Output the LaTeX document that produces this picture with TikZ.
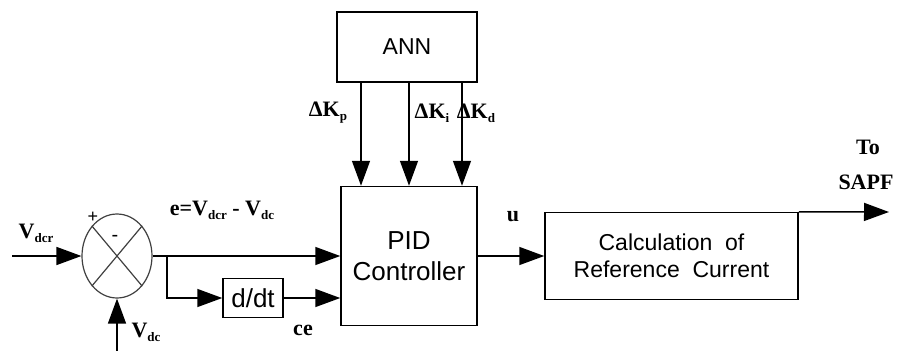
\documentclass[tikz,border=0pt]{standalone}
\usepackage{fontspec}
\setmainfont{Liberation Serif}
\setsansfont{Liberation Sans}
\usetikzlibrary{arrows.meta,shapes.geometric,calc}
\newcommand\lsub[1]{\raisebox{-4pt}{\fontsize{13}{13}\selectfont\bfseries #1}}
\begin{document}
\begin{tikzpicture}[x=1pt,y=-1pt,
  line width=1.5pt,
  blk/.style={draw,rectangle,inner sep=0pt,align=center,font=\sffamily\fontsize{23}{27}\selectfont},
  arr/.style={-{Triangle[length=25pt,width=18pt]}},
  lbl/.style={font=\bfseries\fontsize{22}{24}\selectfont,inner sep=0pt}]
\useasboundingbox (0,0) rectangle (898,351);
\node[blk,minimum width=140pt,minimum height=70pt] (ann) at (407,47) {ANN};
\node[blk,minimum width=136pt,minimum height=139pt,font=\sffamily\fontsize{26}{31}\selectfont] (pid) at (409,256) {PID\\Controller};
\node[blk,minimum width=253pt,minimum height=87pt] (calc) at (671.5,256) {Calculation \ of\\Reference \ Current};
\node[draw,ellipse,minimum width=70pt,minimum height=84pt,inner sep=0pt,line width=1.2pt,draw=black!75] (sum) at (117,256) {};
\draw[line width=1.2pt,draw=black!75] (sum.north west) -- (sum.south east) (sum.north east) -- (sum.south west);
\node[blk,minimum width=60pt,minimum height=39pt,font=\sffamily\fontsize{26}{30}\selectfont] (ddt) at (253,298) {d/dt};
\coordinate (vin) at (12,256);
\coordinate (vdcin) at (117,351);
\coordinate (br) at (167,256);
\coordinate (out) at (889,212);
\draw[arr] (vin) -- (sum.west);
\draw[arr] (vdcin) -- (sum.south);
\draw[arr] (sum.east) -- (pid.west);
\draw[arr] (br) |- (ddt.west);
\draw[arr] (ddt.east) -- (ddt.east -| pid.west);
\draw[arr] (pid.east) -- (calc.west);
\draw[arr] (calc.north east) -- (out);
\draw[arr] ([xshift=-46pt]ann.south) -- ([xshift=-46pt]ann.south |- pid.north);
\draw[arr] ([xshift=2pt]ann.south) -- ([xshift=2pt]ann.south |- pid.north);
\draw[arr] ([xshift=55pt]ann.south) -- ([xshift=55pt]ann.south |- pid.north);
\node[lbl] (lvdcr) at (36,233) {V\lsub{dcr}};
\node[font=\sffamily\fontsize{18}{18}\selectfont,inner sep=0pt] (lplus) at (93,217) {+};
\node[font=\sffamily\fontsize{20}{20}\selectfont,inner sep=0pt] (lminus) at (115,238) {-};
\node[lbl] (lvdc) at (146,332) {V\lsub{dc}};
\node[lbl] (le) at (222,210) {e=V\lsub{dcr} - V\lsub{dc}};
\node[lbl] (lce) at (303,330) {ce};
\node[lbl] (lkp) at (328,113) {ΔK\lsub{p}};
\node[lbl] (lki) at (432,113) {ΔK\lsub{i}};
\node[lbl] (lkd) at (476,113) {ΔK\lsub{d}};
\node[lbl] (lu) at (513,217) {u};
\node[lbl] (lto) at (868,147) {To};
\node[lbl] (lsapf) at (866,182) {SAPF};
\end{tikzpicture}
\end{document}
